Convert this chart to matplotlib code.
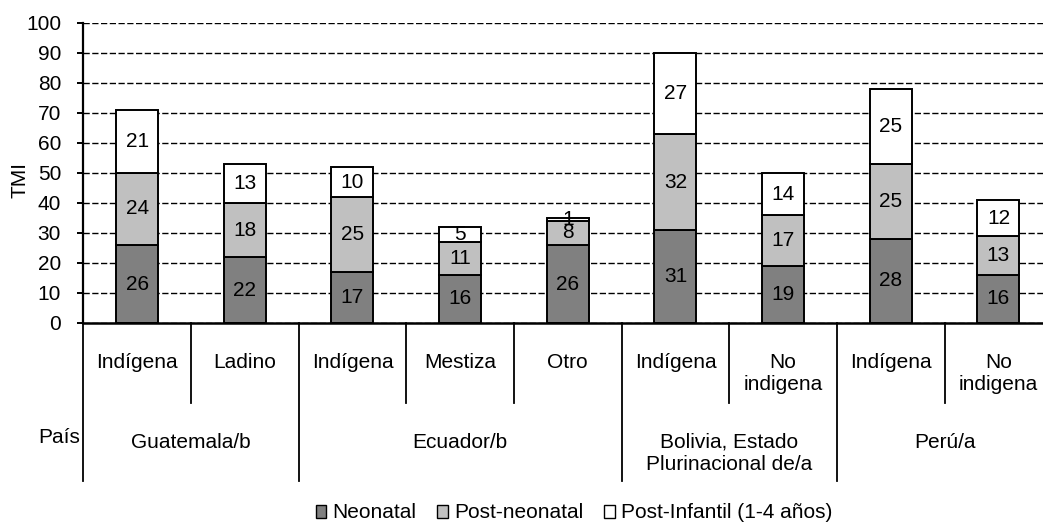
import matplotlib
matplotlib.use("Agg")
import matplotlib.pyplot as plt
import matplotlib.patches as patches
import matplotlib.transforms as mtransforms
import numpy as np

plt.rcParams['font.family'] = ['Liberation Sans', 'DejaVu Sans']

# data
categories = ['Indígena', 'Ladino', 'Indígena', 'Mestiza', 'Otro',
              'Indígena', 'No\nindigena', 'Indígena', 'No\nindigena']
neonatal = [26, 22, 17, 16, 26, 31, 19, 28, 16]
post_neonatal = [24, 18, 25, 11, 8, 32, 17, 25, 13]
post_infantil = [21, 13, 10, 5, 1, 27, 14, 25, 12]
countries = ['Guatemala/b', 'Ecuador/b', 'Bolivia, Estado\nPlurinacional de/a', 'Perú/a']
country_sizes = [2, 3, 2, 2]
series_names = ['Neonatal', 'Post-neonatal', 'Post-Infantil (1-4 años)']
series_colors = ['#808080', '#C0C0C0', '#FFFFFF']
yticks = list(range(0, 101, 10))

FS = 15
W, H = 1043, 525

fig = plt.figure(figsize=(W / 100, H / 100), dpi=100)
# axes runs a bit past the right edge, like the original
ax = fig.add_axes([83.3 / W, (H - 323) / H, 969 / W, 300 / H])

x = np.arange(len(categories))
series = [neonatal, post_neonatal, post_infantil]
bottom = np.zeros(len(categories))
for vals, col in zip(series, series_colors):
    bars = ax.bar(x, vals, width=0.39, bottom=bottom, color=col,
                  edgecolor='black', linewidth=1.4, zorder=3)
    ax.bar_label(bars, label_type='center', fontsize=FS, zorder=4)
    bottom += np.array(vals)

ax.set_xlim(-0.5, len(categories) - 0.5)
ax.set_ylim(0, 100)
ax.set_yticks(yticks)
ax.set_xticks([])
ax.tick_params(axis='y', labelsize=FS, length=4, width=1.4, pad=12)
ax.yaxis.grid(True, color='black', linewidth=1.0, linestyle=(0, (4.5, 1.8)), zorder=1)
ax.set_axisbelow(True)
for s in ['top', 'right']:
    ax.spines[s].set_visible(False)
ax.spines['left'].set_linewidth(1.6)
ax.spines['bottom'].set_linewidth(1.8)
ax.spines['bottom'].set_zorder(5)

# category / country table under the axis
tr = mtransforms.blended_transform_factory(ax.transData, ax.transAxes)
cat_bottom = -(403 - 323) / 300
grp_bottom = -(481 - 323) / 300
edges = np.cumsum([0] + country_sizes) - 0.5
for b in np.arange(-0.5, len(categories) - 0.5):
    yb = grp_bottom if b in edges else cat_bottom
    ax.plot([b, b], [0, yb], color='black', linewidth=1.3, transform=tr, clip_on=False)

cat_top = -(353 - 323) / 300
for xi, lab in zip(x, categories):
    ax.text(xi, cat_top, lab, ha='center', va='top', fontsize=FS,
            linespacing=1.2, transform=tr)

grp_top = -(433 - 323) / 300
for i, (name, n) in enumerate(zip(countries, country_sizes)):
    c = (edges[i] + edges[i + 1]) / 2
    ax.text(c, grp_top, name, ha='center', va='top', fontsize=FS,
            linespacing=1.2, transform=tr)

fig.text(80 / W, 1 - 428 / H, 'País', ha='right', va='top', fontsize=FS)
fig.text(20 / W, 1 - 180 / H, 'TMI', rotation=90, ha='center', va='center', fontsize=FS)

handles = [patches.Patch(facecolor=c, edgecolor='black', linewidth=1.0) for c in series_colors]
fig.legend(handles, series_names, loc='center', bbox_to_anchor=(574 / W, 1 - 513 / H),
           ncol=3, frameon=False, fontsize=FS, handlelength=0.5, handleheight=0.6,
           handletextpad=0.3, columnspacing=1.0, borderpad=0)

fig.savefig('out.png', dpi=100)
